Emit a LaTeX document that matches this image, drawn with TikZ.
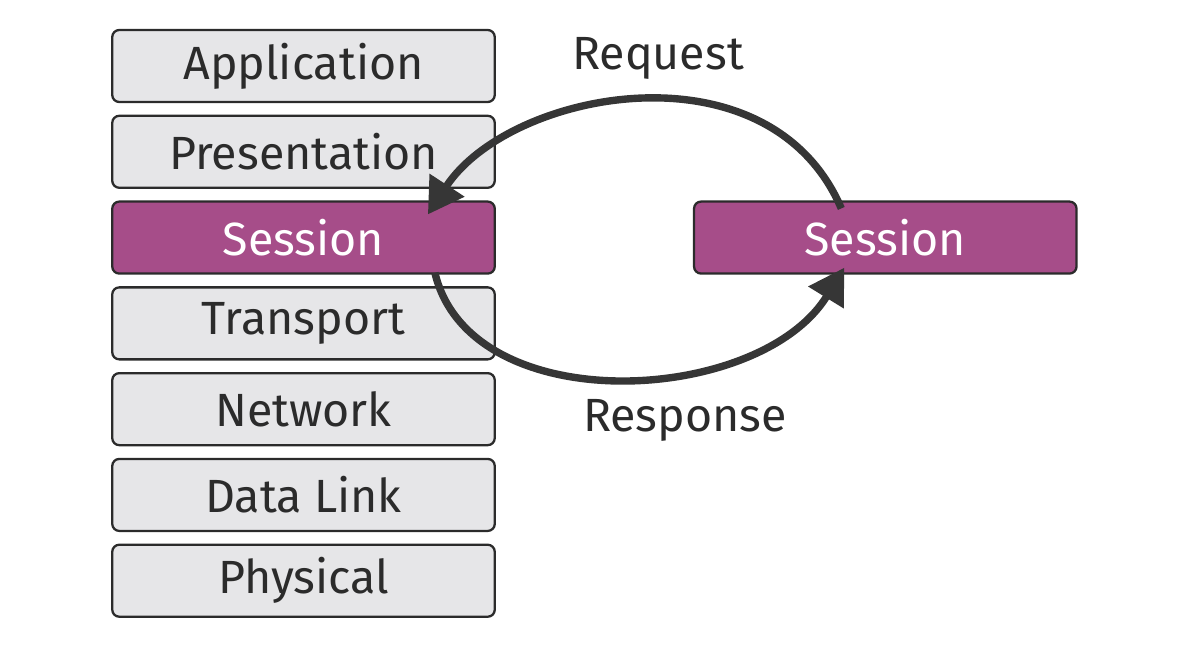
\documentclass[tikz,border=0pt]{standalone}
\usepackage{fontspec}
\setmainfont{Fira Sans}
\usetikzlibrary{arrows.meta, positioning, calc}
\definecolor{layergray}{HTML}{E6E6E8}
\definecolor{sessionpurple}{HTML}{A64D89}
\definecolor{inkdark}{HTML}{2B2B2B}

\begin{document}
\begin{tikzpicture}[
  font=\fontsize{26.5}{31}\selectfont,
  layer/.style={draw=inkdark, line width=1.3pt, rounded corners=4pt,
                fill=layergray, text=inkdark, minimum width=7.65cm,
                minimum height=1.44cm, inner sep=0pt},
  sess/.style={layer, fill=sessionpurple, text=white},
  lbl/.style={text=inkdark, inner sep=0pt},
  arr/.style={-{Triangle[length=0.7cm, width=0.8cm]}, line width=4.2pt,
              draw=inkdark!95},
  node distance=0.23cm and 3.94cm]

  \useasboundingbox (0,0) rectangle (23.74,-13.1);

  % OSI stack
  \node[layer] (app) at (6.07,-1.32) {Application};
  \node[layer, below=of app] (pres) {Presentation};
  \node[sess, below=of pres] (lsess) {Session};
  \node[layer, below=of lsess] (trans) {Transport};
  \node[layer, below=of trans] (net) {Network};
  \node[layer, below=of net] (link) {Data Link};
  \node[layer, below=of link] (phys) {Physical};

  % remote session
  \node[sess, right=of lsess] (rsess) {Session};

  % labels
  \node[lbl] (req) at (13.16,-1.16) {Request};
  \node[lbl] (resp) at (13.7,-8.4) {Response};

  % flows
  \draw[arr] ([xshift=-0.88cm, yshift=-0.16cm]rsess.north)
    .. controls +(-1.44,3.36) and +(1.64,2.5) ..
    ([xshift=-1.36cm, yshift=-0.28cm]lsess.north east);
  \draw[arr] ([xshift=-1.22cm, yshift=0.04cm]lsess.south east)
    .. controls +(0.7,-2.96) and +(-1.7,-2.76) ..
    ([xshift=-0.82cm, yshift=0.14cm]rsess.south);
\end{tikzpicture}
\end{document}
